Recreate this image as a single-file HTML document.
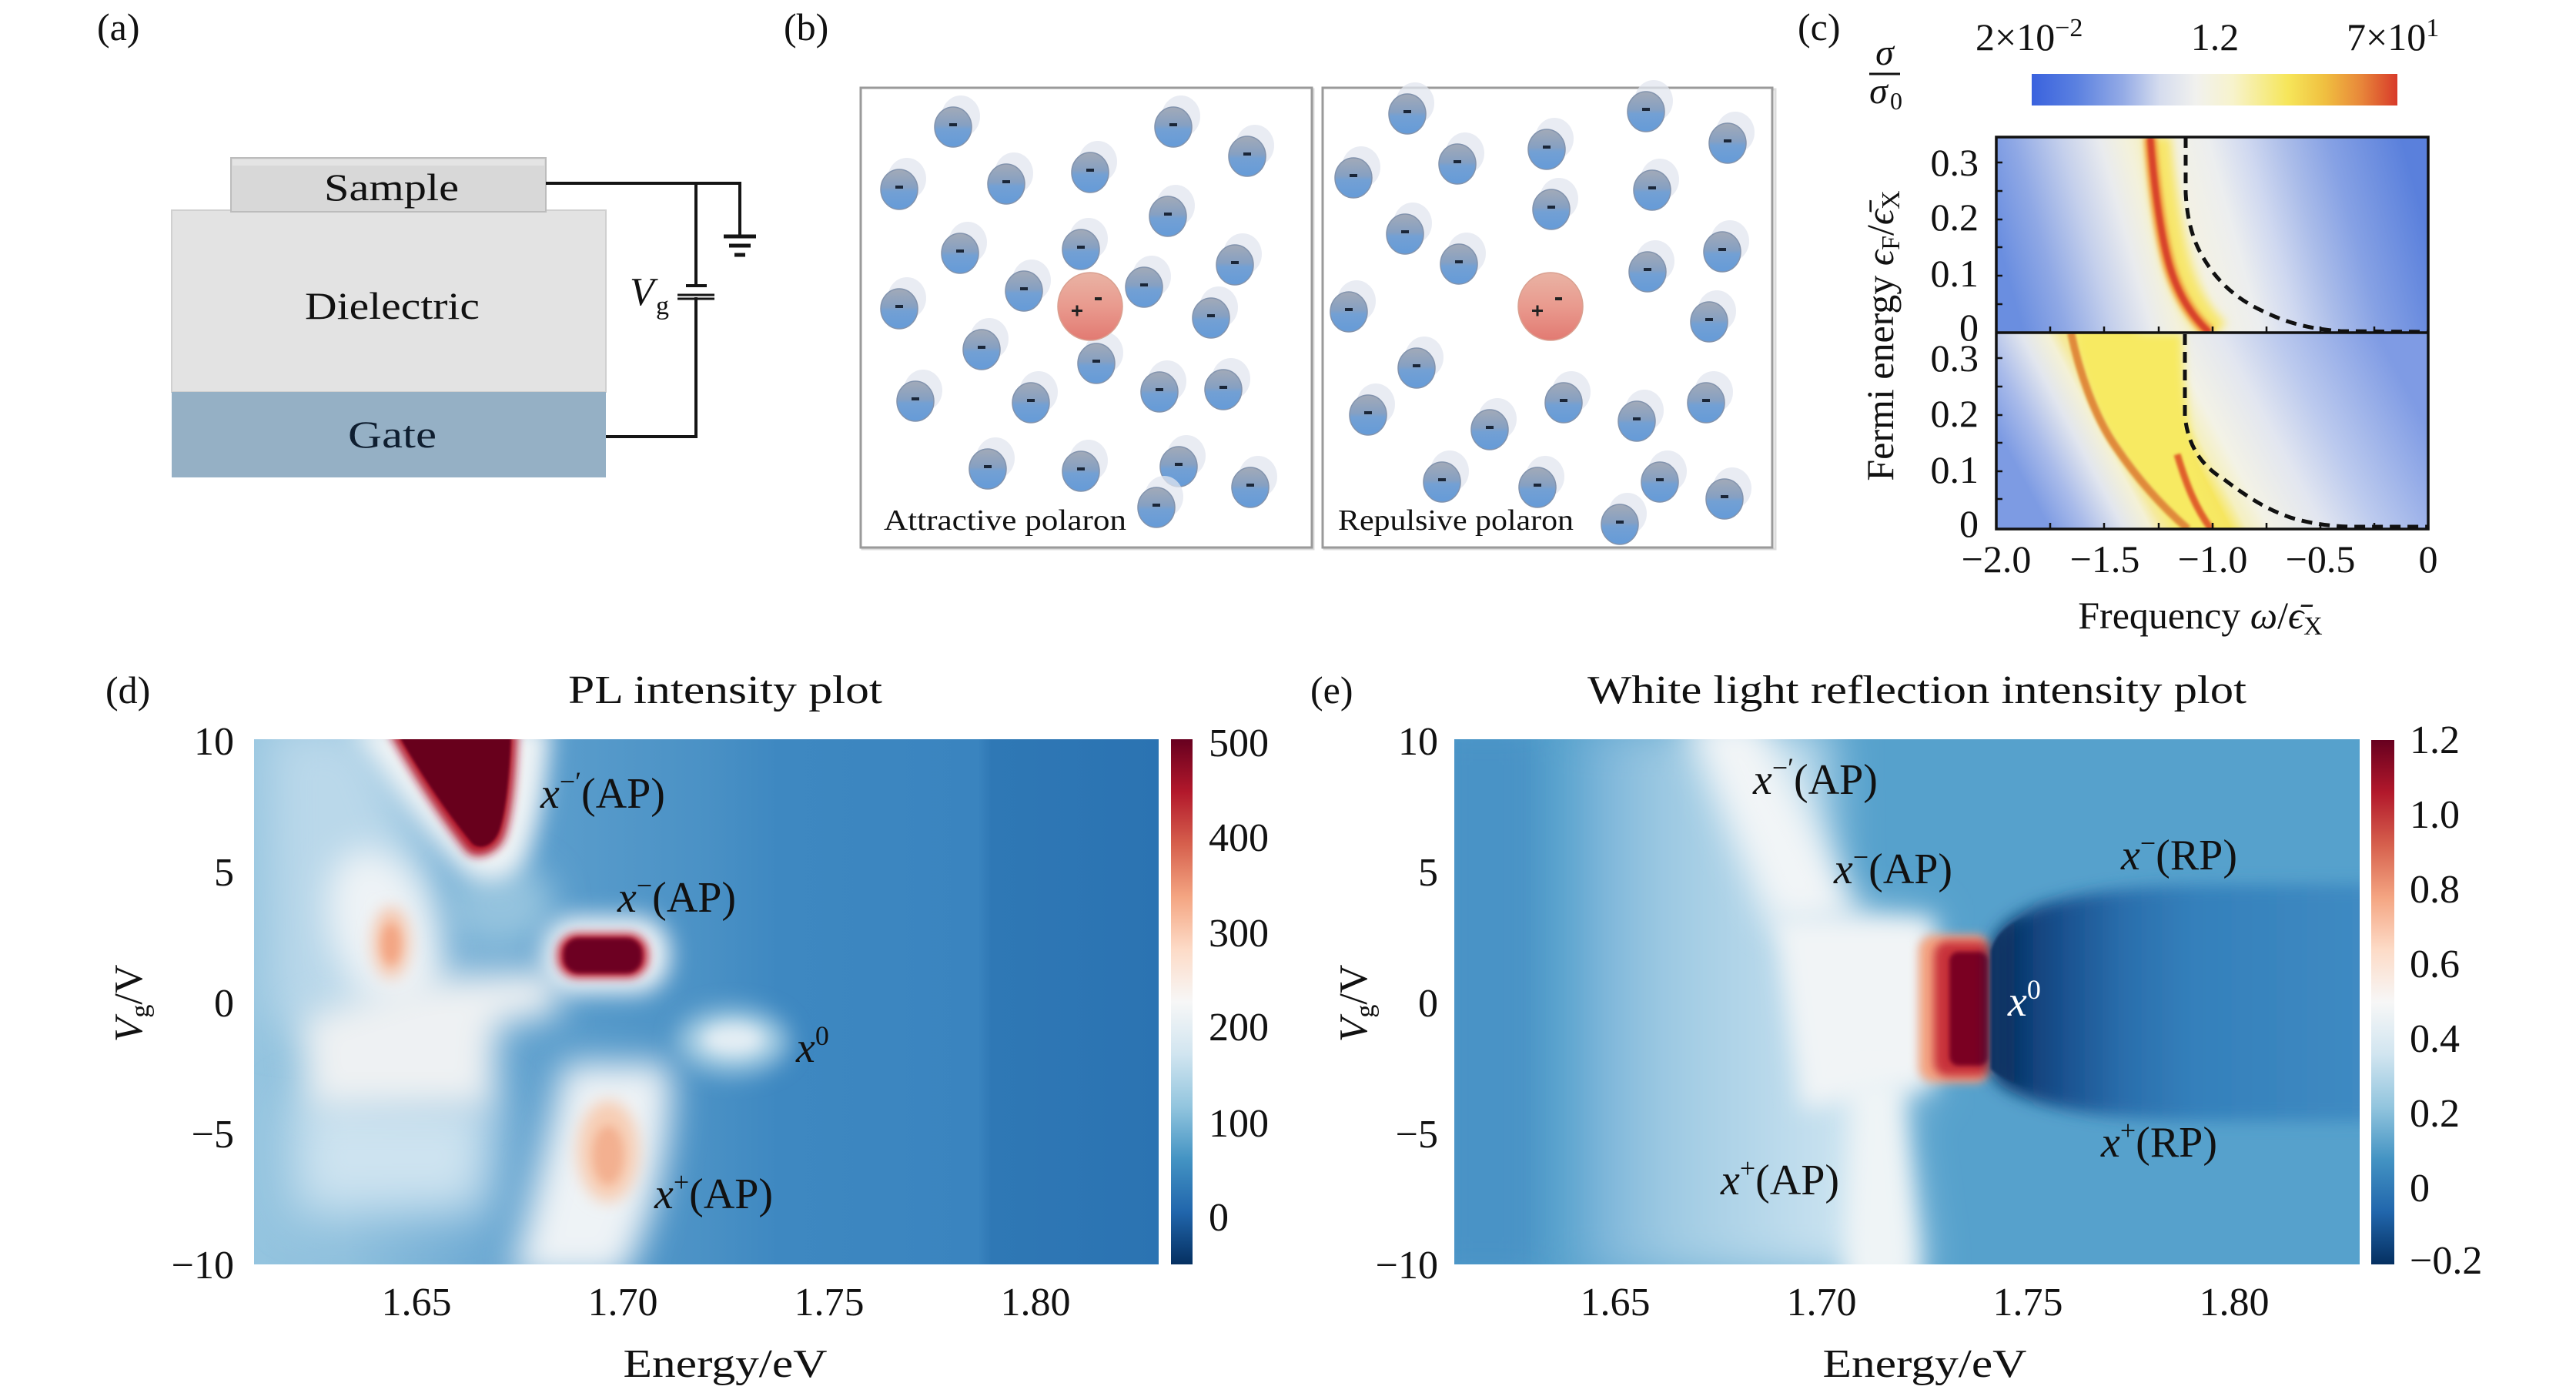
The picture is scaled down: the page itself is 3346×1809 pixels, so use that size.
<!DOCTYPE html>
<html><head><meta charset="utf-8"><style>
html,body{margin:0;padding:0;background:#fff;}
svg{display:block;}
text{font-family:"Liberation Serif","DejaVu Serif",serif;fill:#111;}
</style></head><body>
<svg width="3346" height="1809" viewBox="0 0 3346 1809" xmlns="http://www.w3.org/2000/svg">
<defs>
 <filter id="b40" x="-50%" y="-50%" width="200%" height="200%"><feGaussianBlur stdDeviation="40"/></filter>
 <filter id="b30" x="-50%" y="-50%" width="200%" height="200%"><feGaussianBlur stdDeviation="30"/></filter>
 <filter id="b22" x="-50%" y="-50%" width="200%" height="200%"><feGaussianBlur stdDeviation="22"/></filter>
 <filter id="b15" x="-50%" y="-50%" width="200%" height="200%"><feGaussianBlur stdDeviation="15"/></filter>
 <filter id="b10" x="-50%" y="-50%" width="200%" height="200%"><feGaussianBlur stdDeviation="10"/></filter>
 <filter id="b6" x="-50%" y="-50%" width="200%" height="200%"><feGaussianBlur stdDeviation="6"/></filter>
 <filter id="b3" x="-50%" y="-50%" width="200%" height="200%"><feGaussianBlur stdDeviation="3"/></filter>
 <filter id="b2" x="-50%" y="-50%" width="200%" height="200%"><feGaussianBlur stdDeviation="1.5"/></filter>
 <clipPath id="clipD"><rect x="330" y="960" width="1175" height="682"/></clipPath>
 <clipPath id="clipE"><rect x="1889" y="960" width="1176" height="682"/></clipPath>
 <clipPath id="clipC1"><rect x="2593" y="178" width="561" height="254"/></clipPath>
 <clipPath id="clipC2"><rect x="2593" y="432" width="561" height="255"/></clipPath>
 <linearGradient id="rdbu" x1="0" y1="0" x2="0" y2="1">
  <stop offset="0" stop-color="#67001f"/><stop offset="0.1" stop-color="#b2182b"/>
  <stop offset="0.2" stop-color="#d6604d"/><stop offset="0.3" stop-color="#f4a582"/>
  <stop offset="0.4" stop-color="#fddbc7"/><stop offset="0.5" stop-color="#f7f7f7"/>
  <stop offset="0.6" stop-color="#d1e5f0"/><stop offset="0.7" stop-color="#92c5de"/>
  <stop offset="0.8" stop-color="#4393c3"/><stop offset="0.9" stop-color="#2166ac"/>
  <stop offset="1" stop-color="#053061"/>
 </linearGradient>
 <linearGradient id="cbC" x1="0" y1="0" x2="1" y2="0">
  <stop offset="0" stop-color="#3a62de"/><stop offset="0.12" stop-color="#5a80e0"/>
  <stop offset="0.25" stop-color="#94abe6"/><stop offset="0.35" stop-color="#d5dcee"/>
  <stop offset="0.45" stop-color="#f1f1ee"/><stop offset="0.55" stop-color="#f7f3cc"/>
  <stop offset="0.7" stop-color="#f6e65a"/><stop offset="0.8" stop-color="#f0c040"/>
  <stop offset="0.9" stop-color="#e8873a"/><stop offset="1" stop-color="#d83a2a"/>
 </linearGradient>
 <linearGradient id="gD" gradientUnits="userSpaceOnUse" x1="330" y1="0" x2="1505" y2="0">
  <stop offset="0" stop-color="#94c4df"/><stop offset="0.10" stop-color="#8fc0dd"/>
  <stop offset="0.25" stop-color="#6eaad3"/><stop offset="0.33" stop-color="#5a9dcc"/>
  <stop offset="0.50" stop-color="#4a91c5"/><stop offset="0.58" stop-color="#3e88c1"/>
  <stop offset="0.80" stop-color="#3a84bf"/><stop offset="0.815" stop-color="#2f78b5"/>
  <stop offset="1" stop-color="#2b73b2"/>
 </linearGradient>
 <linearGradient id="gEL" gradientUnits="userSpaceOnUse" x1="2040" y1="0" x2="2420" y2="0">
  <stop offset="0" stop-color="#6eadd6"/><stop offset="0.35" stop-color="#a0cbe3"/>
  <stop offset="1" stop-color="#d0e6f2"/>
 </linearGradient>
 <linearGradient id="gDome" gradientUnits="userSpaceOnUse" x1="2586" y1="0" x2="3065" y2="0">
  <stop offset="0" stop-color="#0a3363"/><stop offset="0.09" stop-color="#0f3d75"/>
  <stop offset="0.2" stop-color="#1a5290"/><stop offset="0.36" stop-color="#2a6eac"/>
  <stop offset="0.55" stop-color="#3480bb"/><stop offset="1" stop-color="#3f8ac2"/>
 </linearGradient>
 <linearGradient id="gStrip" gradientUnits="userSpaceOnUse" x1="2586" y1="0" x2="2640" y2="0">
  <stop offset="0" stop-color="#0a3363" stop-opacity="1"/><stop offset="0.5" stop-color="#0a3363" stop-opacity="0.7"/>
  <stop offset="1" stop-color="#0f3d75" stop-opacity="0"/>
 </linearGradient>
 <linearGradient id="gC1" gradientUnits="userSpaceOnUse" x1="2593" y1="0" x2="3154" y2="0" gradientTransform="translate(-84 0) skewX(15.4)">
  <stop offset="0" stop-color="#6a8ee0"/><stop offset="0.10" stop-color="#8fa8e5"/>
  <stop offset="0.21" stop-color="#c5d0ec"/><stop offset="0.30" stop-color="#e9ebee"/>
  <stop offset="0.36" stop-color="#f3f1dc"/><stop offset="0.42" stop-color="#f6f0c0"/>
  <stop offset="0.46" stop-color="#f3f1e4"/><stop offset="0.55" stop-color="#eceeef"/>
  <stop offset="0.64" stop-color="#cfd8f0"/><stop offset="0.73" stop-color="#aabce9"/>
  <stop offset="0.83" stop-color="#86a1e4"/><stop offset="1" stop-color="#5a80dc"/>
 </linearGradient>
 <linearGradient id="gC2" gradientUnits="userSpaceOnUse" x1="2593" y1="0" x2="3154" y2="0" gradientTransform="translate(-296 0) skewX(28)">
  <stop offset="0" stop-color="#7d9be3"/><stop offset="0.084" stop-color="#a9bbea"/>
  <stop offset="0.173" stop-color="#e2e6ee"/><stop offset="0.235" stop-color="#f4f1d6"/>
  <stop offset="0.262" stop-color="#f5eaa0"/><stop offset="0.30" stop-color="#f7ec70"/>
  <stop offset="0.42" stop-color="#f6e660"/><stop offset="0.458" stop-color="#f5f0c0"/>
  <stop offset="0.51" stop-color="#f3f2e6"/><stop offset="0.635" stop-color="#e2e6f0"/>
  <stop offset="0.76" stop-color="#bccaee"/><stop offset="1" stop-color="#7f9be4"/>
 </linearGradient>
 <linearGradient id="ballG" x1="0" y1="0" x2="0" y2="1">
  <stop offset="0" stop-color="#a2aab8"/><stop offset="0.45" stop-color="#86a0c2"/>
  <stop offset="0.55" stop-color="#73a0d4"/><stop offset="1" stop-color="#659bd8"/>
 </linearGradient>
 <linearGradient id="redG" x1="0" y1="0" x2="0" y2="1">
  <stop offset="0" stop-color="#e9b3a4"/><stop offset="0.5" stop-color="#e99a8e"/>
  <stop offset="1" stop-color="#e27a72"/>
 </linearGradient>
 <g id="ball">
  <ellipse cx="10" cy="-14" rx="25" ry="27" fill="#e2e6ef" opacity="0.75"/>
  <ellipse cx="0" cy="0" rx="24" ry="26" fill="url(#ballG)" stroke="#8293ad" stroke-width="1.5"/>
  <rect x="-5" y="-5" width="10" height="4" fill="#1a2638"/>
 </g>
 <g id="rball">
  <ellipse cx="0" cy="0" rx="42" ry="44" fill="url(#redG)" stroke="#d9a090" stroke-width="1.5"/>
  <rect x="-24" y="4" width="14" height="3" fill="#222"/><rect x="-18.5" y="-1.5" width="3" height="14" fill="#222"/>
  <rect x="6" y="-12" width="9" height="4" fill="#222"/>
 </g>
</defs>
<rect x="0" y="0" width="3346" height="1809" fill="#fff"/>

<!-- ===== Panel (a) ===== -->
<text x="126" y="52" font-size="50">(a)</text>
<rect x="223" y="273" width="564" height="236" fill="#e3e3e3" stroke="#d0d0d0" stroke-width="2"/>
<rect x="223" y="509" width="564" height="111" fill="#95b0c5"/>
<rect x="300" y="205" width="409" height="70" fill="#d8d8d8" stroke="#bcbcbc" stroke-width="2"/>
<rect x="302" y="207" width="405" height="8" fill="#e4e4e4"/>
<text x="421" y="260" font-size="50" textLength="175" lengthAdjust="spacingAndGlyphs">Sample</text>
<text x="396" y="414" font-size="50" textLength="227" lengthAdjust="spacingAndGlyphs">Dielectric</text>
<text x="452" y="581" font-size="50" textLength="115" lengthAdjust="spacingAndGlyphs" style="fill:#0f1e30">Gate</text>
<g stroke="#151515" stroke-width="4" fill="none">
 <path d="M709 238 H961 V306"/>
 <path d="M904 238 V371"/>
 <path d="M904 386 V567 H787"/>
 <path d="M940 307 H982" stroke-width="5"/>
 <path d="M947 319 H975" stroke-width="5"/>
 <path d="M954 331 H968" stroke-width="5"/>
 <path d="M891 371 H918" stroke-width="4"/>
 <path d="M880 383 H928" stroke-width="3"/>
 <path d="M880 388 H928" stroke-width="3"/>
</g>
<text x="818" y="396" font-size="52" font-style="italic">V</text>
<text x="852" y="408" font-size="34">g</text>

<!-- ===== Panel (b) ===== -->
<text x="1018" y="52" font-size="50">(b)</text>
<rect x="1120" y="116" width="586" height="597" fill="none" stroke="#dcdcdc" stroke-width="3"/>
<rect x="1118" y="114" width="586" height="597" fill="#fff" stroke="#9a9a9a" stroke-width="3"/>
<rect x="1720" y="116" width="586" height="597" fill="none" stroke="#dcdcdc" stroke-width="3"/>
<rect x="1718" y="114" width="584" height="597" fill="#fff" stroke="#9a9a9a" stroke-width="3"/>
<g>
 <use href="#ball" x="1238" y="165"/><use href="#ball" x="1524" y="165"/><use href="#ball" x="1620" y="203"/>
 <use href="#ball" x="1168" y="246"/><use href="#ball" x="1307" y="239"/><use href="#ball" x="1416" y="224"/>
 <use href="#ball" x="1517" y="281"/><use href="#ball" x="1247" y="329"/><use href="#ball" x="1404" y="324"/>
 <use href="#ball" x="1604" y="344"/><use href="#ball" x="1330" y="378"/><use href="#ball" x="1486" y="373"/>
 <use href="#ball" x="1168" y="401"/><use href="#ball" x="1573" y="413"/><use href="#ball" x="1275" y="454"/>
 <use href="#ball" x="1424" y="472"/><use href="#ball" x="1189" y="521"/><use href="#ball" x="1339" y="523"/>
 <use href="#ball" x="1506" y="509"/><use href="#ball" x="1589" y="506"/><use href="#ball" x="1283" y="609"/>
 <use href="#ball" x="1404" y="612"/><use href="#ball" x="1531" y="606"/><use href="#ball" x="1624" y="633"/>
 <use href="#ball" x="1502" y="659"/>
 <use href="#rball" x="1416" y="398"/>
 <use href="#ball" x="1828" y="148"/><use href="#ball" x="2138" y="145"/><use href="#ball" x="2244" y="186"/>
 <use href="#ball" x="1758" y="231"/><use href="#ball" x="1893" y="213"/><use href="#ball" x="2009" y="194"/>
 <use href="#ball" x="2146" y="247"/><use href="#ball" x="2015" y="272"/><use href="#ball" x="1825" y="304"/>
 <use href="#ball" x="1895" y="343"/><use href="#ball" x="2140" y="353"/><use href="#ball" x="2237" y="327"/>
 <use href="#ball" x="1752" y="405"/><use href="#ball" x="2220" y="418"/><use href="#ball" x="1840" y="478"/>
 <use href="#ball" x="1777" y="539"/><use href="#ball" x="1935" y="558"/><use href="#ball" x="2031" y="523"/>
 <use href="#ball" x="2126" y="547"/><use href="#ball" x="2216" y="523"/><use href="#ball" x="1873" y="626"/>
 <use href="#ball" x="1997" y="633"/><use href="#ball" x="2156" y="626"/><use href="#ball" x="2240" y="648"/>
 <use href="#ball" x="2104" y="681"/>
 <use href="#rball" x="2014" y="398"/>
</g>
<text x="1148" y="688" font-size="38" textLength="315" lengthAdjust="spacingAndGlyphs">Attractive polaron</text>
<text x="1738" y="688" font-size="38" textLength="306" lengthAdjust="spacingAndGlyphs">Repulsive polaron</text>

<!-- ===== Panel (c) ===== -->
<text x="2335" y="52" font-size="50">(c)</text>
<text x="2448" y="84" font-size="48" font-style="italic" text-anchor="middle">σ</text>
<line x1="2428" y1="96" x2="2468" y2="96" stroke="#111" stroke-width="3"/>
<text x="2440" y="134" font-size="48" font-style="italic" text-anchor="middle">σ</text>
<text x="2455" y="142" font-size="32">0</text>
<rect x="2639" y="96" width="475" height="41" fill="url(#cbC)"/>
<text x="2566" y="65" font-size="50">2×10<tspan dy="-18" font-size="34">−2</tspan></text>
<text x="2877" y="65" font-size="50" text-anchor="middle">1.2</text>
<text x="3048" y="65" font-size="50">7×10<tspan dy="-18" font-size="34">1</tspan></text>

<g clip-path="url(#clipC1)">
 <rect x="2593" y="178" width="561" height="254" fill="url(#gC1)"/>
 <path d="M2803 178 C2807 230 2815 300 2828 345 C2840 385 2858 412 2880 432" fill="none" stroke="#f7e66a" stroke-width="34" filter="url(#b6)"/>
 <path d="M2793 178 C2797 230 2805 300 2818 345 C2830 385 2848 412 2870 432" fill="none" stroke="#ee8f3a" stroke-width="16" filter="url(#b3)"/>
 <path d="M2793 178 C2797 230 2805 300 2818 345 C2830 385 2848 412 2870 432" fill="none" stroke="#d8432b" stroke-width="8" filter="url(#b2)"/>
 <path d="M2839 178 L2839 250 C2841 290 2850 315 2862 335 C2878 362 2900 385 2935 402 C2965 417 2995 427 3040 430 L3154 431" fill="none" stroke="#111" stroke-width="5" stroke-dasharray="14 9"/>
</g>
<g clip-path="url(#clipC2)">
 <rect x="2593" y="432" width="561" height="255" fill="url(#gC2)"/>
 <path d="M2700 432 L2835 432 C2836 520 2845 620 2880 687 L2842 687 C2805 655 2775 620 2748 580 C2720 540 2700 480 2700 432 Z" fill="#f7ea62" filter="url(#b6)"/>
 <path d="M2690 432 C2700 480 2720 540 2748 580 C2775 620 2805 655 2842 687" fill="none" stroke="#e08a3a" stroke-width="10" filter="url(#b2)"/>
 <path d="M2828 590 C2840 630 2852 660 2872 687" fill="none" stroke="#e0602a" stroke-width="9" filter="url(#b2)"/>
 <path d="M2838 434 L2838 540 C2842 580 2860 605 2888 622 C2915 642 2940 660 2975 672 C3000 680 3030 684 3060 684 L3154 684" fill="none" stroke="#111" stroke-width="5" stroke-dasharray="14 9"/>
</g>
<g stroke="#111" stroke-width="2.5">
 <path d="M2663 432 v-8 M2733 432 v-8 M2804 432 v-8 M2874 432 v-8 M2944 432 v-8 M3014 432 v-8 M3084 432 v-8"/>
 <path d="M2663 687 v-8 M2733 687 v-8 M2804 687 v-8 M2874 687 v-8 M2944 687 v-8 M3014 687 v-8 M3084 687 v-8"/>
 <path d="M2593 395 h8 M2593 358 h8 M2593 321 h8 M2593 285 h8 M2593 248 h8 M2593 211 h8"/>
 <path d="M2593 648 h8 M2593 612 h8 M2593 575 h8 M2593 539 h8 M2593 502 h8 M2593 465 h8"/>
</g>
<rect x="2593" y="178" width="561" height="509" fill="none" stroke="#111" stroke-width="3.5"/>
<line x1="2593" y1="432" x2="3154" y2="432" stroke="#111" stroke-width="3.5"/>
<g font-size="50" text-anchor="end">
 <text x="2570" y="228">0.3</text><text x="2570" y="299">0.2</text><text x="2570" y="372">0.1</text><text x="2570" y="442">0</text>
 <text x="2570" y="482">0.3</text><text x="2570" y="554">0.2</text><text x="2570" y="627">0.1</text><text x="2570" y="697">0</text>
</g>
<g font-size="50" text-anchor="middle">
 <text x="2593" y="743">−2.0</text><text x="2734" y="743">−1.5</text><text x="2874" y="743">−1.0</text>
 <text x="3014" y="743">−0.5</text><text x="3154" y="743">0</text>
</g>
<text x="2858" y="816" font-size="50" text-anchor="middle">Frequency <tspan font-style="italic">ω</tspan>/<tspan font-style="italic">ϵ̄</tspan><tspan font-size="34" dy="8">X</tspan></text>
<text transform="translate(2459 436) rotate(-90)" font-size="50" text-anchor="middle">Fermi energy <tspan font-style="italic">ϵ</tspan><tspan font-size="34" dy="8">F</tspan><tspan dy="-8">/</tspan><tspan font-style="italic">ϵ̄</tspan><tspan font-size="34" dy="8">X</tspan></text>

<!-- ===== Panel (d) ===== -->
<text x="137" y="913" font-size="50">(d)</text>
<text x="942" y="913" font-size="52" text-anchor="middle" textLength="408" lengthAdjust="spacingAndGlyphs">PL intensity plot</text>
<g clip-path="url(#clipD)">
 <rect x="330" y="960" width="1175" height="682" fill="url(#gD)"/>
 <path d="M345 940 H480 L560 1150 L500 1330 L350 1330 Z" fill="#bad8ea" filter="url(#b30)"/>
 <ellipse cx="650" cy="1175" rx="70" ry="55" fill="#94c3de" filter="url(#b22)"/>
 <path d="M380 1430 L645 1430 L630 1575 L385 1575 Z" fill="#cde3f0" filter="url(#b30)"/>
 <path d="M455 940 L715 940 C712 1010 700 1080 680 1120 C660 1150 625 1150 600 1130 C550 1080 500 1010 455 940 Z" fill="#f0f4f6" filter="url(#b15)"/>
 <ellipse cx="500" cy="1210" rx="68" ry="112" transform="rotate(-20 500 1210)" fill="#eef3f6" filter="url(#b22)"/>
 <path d="M390 1320 L545 1270 L725 1258 L725 1318 L645 1330 L640 1440 L400 1440 Z" fill="#eef1f3" filter="url(#b22)"/>
 <rect x="705" y="1190" width="165" height="100" rx="45" fill="#f2f5f7" filter="url(#b15)"/>
 <path d="M732 1380 L870 1380 C880 1450 860 1560 810 1660 L665 1660 C690 1560 715 1460 732 1380 Z" fill="#eef3f6" filter="url(#b22)"/>
 <ellipse cx="508" cy="1224" rx="24" ry="46" fill="#f6c4aa" filter="url(#b10)"/>
 <ellipse cx="508" cy="1226" rx="12" ry="26" fill="#f3a583" filter="url(#b6)"/>
 <ellipse cx="790" cy="1495" rx="40" ry="66" fill="#f7cdb4" filter="url(#b10)"/>
 <ellipse cx="790" cy="1500" rx="20" ry="38" fill="#f3b090" filter="url(#b6)"/>
 <ellipse cx="952" cy="1352" rx="72" ry="42" fill="#a6cde3" filter="url(#b15)"/>
 <ellipse cx="952" cy="1350" rx="40" ry="20" fill="#e4eef4" filter="url(#b10)"/>
 <rect x="724" y="1212" width="118" height="58" rx="26" fill="#c0283a" filter="url(#b6)"/>
 <rect x="732" y="1218" width="102" height="46" rx="20" fill="#6d0220" filter="url(#b3)"/>
 <path d="M505 950 L672 950 C670 1010 665 1060 655 1088 C645 1112 615 1118 605 1105 C570 1060 535 1005 505 950 Z" fill="#b2182b" filter="url(#b6)"/>
 <path d="M515 950 L664 950 C662 1008 657 1055 648 1080 C640 1100 622 1104 613 1095 C580 1055 545 1003 515 950 Z" fill="#67001f" filter="url(#b2)"/>
</g>
<rect x="1521" y="960" width="28" height="682" fill="url(#rdbu)"/>
<g font-size="52">
 <text x="1570" y="982">500</text><text x="1570" y="1105">400</text><text x="1570" y="1229">300</text>
 <text x="1570" y="1351">200</text><text x="1570" y="1476">100</text><text x="1570" y="1598">0</text>
</g>
<g font-size="52" text-anchor="end">
 <text x="304" y="980">10</text><text x="304" y="1150">5</text><text x="304" y="1320">0</text>
 <text x="304" y="1490">−5</text><text x="304" y="1660">−10</text>
</g>
<g font-size="52" text-anchor="middle">
 <text x="541" y="1708">1.65</text><text x="809" y="1708">1.70</text><text x="1077" y="1708">1.75</text><text x="1345" y="1708">1.80</text>
</g>
<text x="942" y="1788" font-size="52" text-anchor="middle" textLength="265" lengthAdjust="spacingAndGlyphs">Energy/eV</text>
<text transform="translate(184 1303) rotate(-90)" font-size="52" text-anchor="middle"><tspan font-style="italic">V</tspan><tspan font-size="34" dy="9">g</tspan><tspan dy="-9">/V</tspan></text>
<g font-size="56">
 <text x="702" y="1049"><tspan font-style="italic">x</tspan><tspan font-size="36" dy="-22">−′</tspan><tspan dy="22">(AP)</tspan></text>
 <text x="802" y="1184"><tspan font-style="italic">x</tspan><tspan font-size="36" dy="-22">−</tspan><tspan dy="22">(AP)</tspan></text>
 <text x="1034" y="1379"><tspan font-style="italic">x</tspan><tspan font-size="36" dy="-22">0</tspan></text>
 <text x="850" y="1569"><tspan font-style="italic">x</tspan><tspan font-size="36" dy="-22">+</tspan><tspan dy="22">(AP)</tspan></text>
</g>

<!-- ===== Panel (e) ===== -->
<text x="1702" y="913" font-size="50">(e)</text>
<text x="2490" y="913" font-size="52" text-anchor="middle" textLength="856" lengthAdjust="spacingAndGlyphs">White light reflection intensity plot</text>
<g clip-path="url(#clipE)">
 <rect x="1889" y="960" width="1176" height="682" fill="#56a1cc"/>
 <rect x="1860" y="940" width="140" height="720" fill="#4a93c6" filter="url(#b22)"/>
 <path d="M2050 940 L2376 940 L2380 1195 L2500 1195 L2500 1420 L2462 1420 L2495 1660 L2050 1660 Z" fill="url(#gEL)" filter="url(#b30)"/>
 <path d="M2185 930 L2285 930 L2420 1200 L2300 1200 Z" fill="#f2f5f7" filter="url(#b22)"/>
 <path d="M2305 1192 L2512 1192 L2512 1412 L2450 1420 L2340 1440 Z" fill="#f1f4f6" filter="url(#b15)"/>
 <path d="M2405 1400 L2468 1400 L2495 1670 L2395 1670 Z" fill="#eff4f6" filter="url(#b15)"/>
 <rect x="2492" y="1214" width="94" height="192" rx="20" fill="#f4a582" filter="url(#b6)"/>
 <rect x="2512" y="1222" width="74" height="176" rx="18" fill="#c8313a" filter="url(#b6)"/>
 <rect x="2532" y="1236" width="50" height="148" rx="12" fill="#7a0621" filter="url(#b3)"/>
 <path d="M2586 1230 C2592 1205 2612 1190 2650 1175 C2700 1160 2760 1152 2840 1150 L3100 1148 L3100 1456 L2840 1455 C2760 1452 2700 1447 2650 1432 C2612 1420 2592 1410 2586 1392 Z" fill="url(#gDome)" filter="url(#b10)"/>
 <path d="M2586 1235 C2592 1212 2610 1198 2640 1186 L2640 1416 C2610 1405 2592 1395 2586 1388 Z" fill="url(#gStrip)" filter="url(#b2)"/>
</g>
<rect x="3080" y="961" width="30" height="681" fill="url(#rdbu)"/>
<g font-size="52">
 <text x="3130" y="978">1.2</text><text x="3130" y="1075">1.0</text><text x="3130" y="1172">0.8</text>
 <text x="3130" y="1269">0.6</text><text x="3130" y="1366">0.4</text><text x="3130" y="1463">0.2</text>
 <text x="3130" y="1560">0</text><text x="3130" y="1654">−0.2</text>
</g>
<g font-size="52" text-anchor="end">
 <text x="1868" y="980">10</text><text x="1868" y="1150">5</text><text x="1868" y="1320">0</text>
 <text x="1868" y="1490">−5</text><text x="1868" y="1660">−10</text>
</g>
<g font-size="52" text-anchor="middle">
 <text x="2098" y="1708">1.65</text><text x="2366" y="1708">1.70</text><text x="2634" y="1708">1.75</text><text x="2902" y="1708">1.80</text>
</g>
<text x="2500" y="1788" font-size="52" text-anchor="middle" textLength="265" lengthAdjust="spacingAndGlyphs">Energy/eV</text>
<text transform="translate(1775 1303) rotate(-90)" font-size="52" text-anchor="middle"><tspan font-style="italic">V</tspan><tspan font-size="34" dy="9">g</tspan><tspan dy="-9">/V</tspan></text>
<g font-size="56">
 <text x="2277" y="1031"><tspan font-style="italic">x</tspan><tspan font-size="36" dy="-22">−′</tspan><tspan dy="22">(AP)</tspan></text>
 <text x="2382" y="1147"><tspan font-style="italic">x</tspan><tspan font-size="36" dy="-22">−</tspan><tspan dy="22">(AP)</tspan></text>
 <text x="2755" y="1129"><tspan font-style="italic">x</tspan><tspan font-size="36" dy="-22">−</tspan><tspan dy="22">(RP)</tspan></text>
 <text x="2608" y="1319" style="fill:#fff"><tspan font-style="italic" style="fill:#fff">x</tspan><tspan font-size="36" dy="-22" style="fill:#fff">0</tspan></text>
 <text x="2729" y="1502"><tspan font-style="italic">x</tspan><tspan font-size="36" dy="-22">+</tspan><tspan dy="22">(RP)</tspan></text>
 <text x="2235" y="1551"><tspan font-style="italic">x</tspan><tspan font-size="36" dy="-22">+</tspan><tspan dy="22">(AP)</tspan></text>
</g>
</svg>
</body></html>
